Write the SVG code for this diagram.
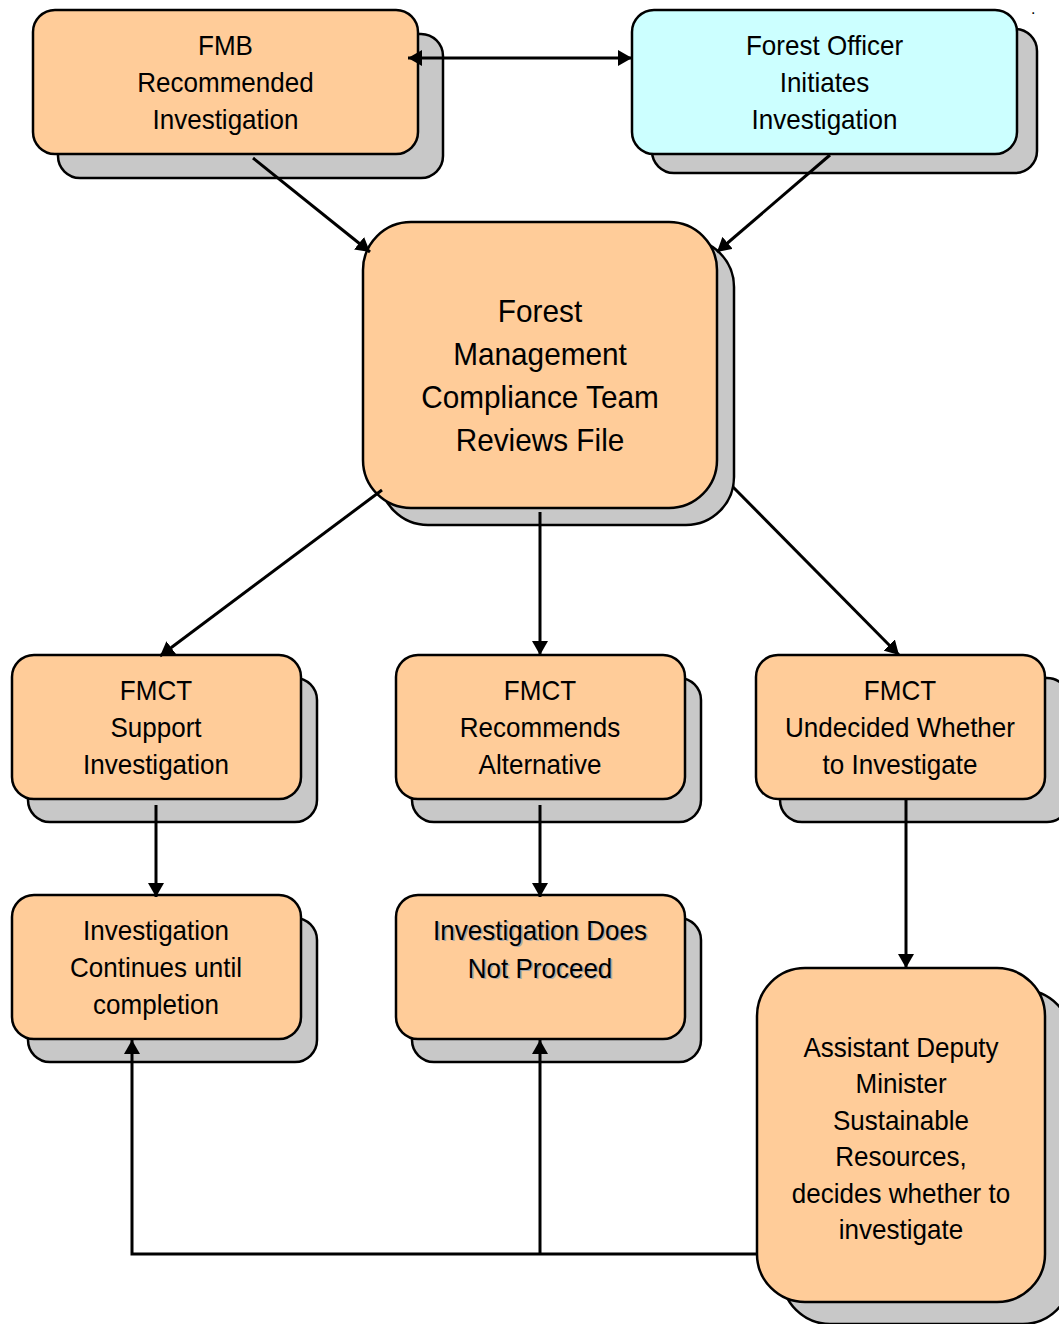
<svg xmlns="http://www.w3.org/2000/svg" width="1059" height="1324" viewBox="0 0 1059 1324">
<style>
.box{fill:#FFCC99;stroke:#000;stroke-width:2.5}
.cyan{fill:#CCFFFF;stroke:#000;stroke-width:2.5}
.sh{fill:#C8C8C8;stroke:#000;stroke-width:2.5}
.t{font-family:"Liberation Sans",Arial,sans-serif;font-size:28px;text-anchor:middle;fill:#000}
.tb{font-size:32px}
.ts{fill:#A8A8A8}
.c{fill:none;stroke:#000;stroke-width:3}
</style>
<defs>
<marker id="ah" viewBox="0 0 10 10" refX="10" refY="5" markerWidth="14" markerHeight="16" markerUnits="userSpaceOnUse" orient="auto-start-reverse" preserveAspectRatio="none">
<path d="M0,0 L10,5 L0,10 z" fill="#000"/>
</marker>
</defs>
<rect width="1059" height="1324" fill="#fff"/>

<g id="fmb">
<rect class="sh" x="58" y="34" width="385" height="144" rx="22"/>
<rect class="box" x="33" y="10" width="385" height="144" rx="22"/>
<g transform="translate(225.5 0) scale(0.93 1)"><text class="t" x="0" y="55">FMB</text><text class="t" x="0" y="92">Recommended</text><text class="t" x="0" y="129">Investigation</text></g>
</g>

<g id="forest-officer">
<rect class="sh" x="652" y="29" width="385" height="144" rx="22"/>
<rect class="cyan" x="632" y="10" width="385" height="144" rx="22"/>
<g transform="translate(824.5 0) scale(0.93 1)"><text class="t" x="0" y="55">Forest Officer</text><text class="t" x="0" y="92">Initiates</text><text class="t" x="0" y="129">Investigation</text></g>
</g>

<g id="fmct-review">
<rect class="sh" x="380" y="239" width="354" height="286" rx="48"/>
<rect class="box" x="363" y="222" width="354" height="286" rx="48"/>
<g transform="translate(540 0) scale(0.93 1)"><text class="t tb" x="0" y="322">Forest</text><text class="t tb" x="0" y="365">Management</text><text class="t tb" x="0" y="408">Compliance Team</text><text class="t tb" x="0" y="451">Reviews File</text></g>
</g>

<g id="fmct-support">
<rect class="sh" x="28" y="678" width="289" height="144" rx="22"/>
<rect class="box" x="12" y="655" width="289" height="144" rx="22"/>
<g transform="translate(156 0) scale(0.93 1)"><text class="t" x="0" y="700">FMCT</text><text class="t" x="0" y="737">Support</text><text class="t" x="0" y="774">Investigation</text></g>
</g>

<g id="fmct-alternative">
<rect class="sh" x="412" y="678" width="289" height="144" rx="22"/>
<rect class="box" x="396" y="655" width="289" height="144" rx="22"/>
<g transform="translate(540 0) scale(0.93 1)"><text class="t" x="0" y="700">FMCT</text><text class="t" x="0" y="737">Recommends</text><text class="t" x="0" y="774">Alternative</text></g>
</g>

<g id="fmct-undecided">
<rect class="sh" x="780" y="678" width="289" height="144" rx="22"/>
<rect class="box" x="756" y="655" width="289" height="144" rx="22"/>
<g transform="translate(900 0) scale(0.93 1)"><text class="t" x="0" y="700">FMCT</text><text class="t" x="0" y="737">Undecided Whether</text><text class="t" x="0" y="774">to Investigate</text></g>
</g>

<g id="investigation-continues">
<rect class="sh" x="28" y="918" width="289" height="144" rx="22"/>
<rect class="box" x="12" y="895" width="289" height="144" rx="22"/>
<g transform="translate(156 0) scale(0.93 1)"><text class="t" x="0" y="940">Investigation</text><text class="t" x="0" y="977">Continues until</text><text class="t" x="0" y="1014">completion</text></g>
</g>

<g id="investigation-not-proceed">
<rect class="sh" x="412" y="918" width="289" height="144" rx="22"/>
<rect class="box" x="396" y="895" width="289" height="144" rx="22"/>
<g transform="translate(541.5 1.5) scale(0.93 1)"><text class="t ts" x="0" y="940">Investigation Does</text><text class="t ts" x="0" y="978">Not Proceed</text></g>
<g transform="translate(540 0) scale(0.93 1)"><text class="t" x="0" y="940">Investigation Does</text><text class="t" x="0" y="978">Not Proceed</text></g>
</g>

<g id="adm">
<rect class="sh" x="782" y="990" width="289" height="334" rx="48"/>
<rect class="box" x="757" y="968" width="288" height="334" rx="48"/>
<g transform="translate(901 0) scale(0.93 1)"><text class="t" x="0" y="1057">Assistant Deputy</text><text class="t" x="0" y="1093.5">Minister</text><text class="t" x="0" y="1130">Sustainable</text><text class="t" x="0" y="1166.5">Resources,</text><text class="t" x="0" y="1203">decides whether to</text><text class="t" x="0" y="1239.5">investigate</text></g>
</g>

<g id="connectors">
<line class="c" x1="408" y1="58" x2="632" y2="58" marker-start="url(#ah)" marker-end="url(#ah)"/>
<line class="c" x1="253" y1="158" x2="370" y2="252" marker-end="url(#ah)"/>
<line class="c" x1="830" y1="155" x2="717" y2="252" marker-end="url(#ah)"/>
<line class="c" x1="382" y1="490" x2="160" y2="656" marker-end="url(#ah)"/>
<line class="c" x1="540" y1="512" x2="540" y2="655" marker-end="url(#ah)"/>
<line class="c" x1="733" y1="487" x2="899" y2="655" marker-end="url(#ah)"/>
<line class="c" x1="156" y1="805" x2="156" y2="897" marker-end="url(#ah)"/>
<line class="c" x1="540" y1="805" x2="540" y2="897" marker-end="url(#ah)"/>
<line class="c" x1="906" y1="800" x2="906" y2="968" marker-end="url(#ah)"/>
<polyline class="c" points="757,1254 132,1254 132,1040" marker-end="url(#ah)"/>
<line class="c" x1="540" y1="1254" x2="540" y2="1040" marker-end="url(#ah)"/>
</g>

<text x="1031" y="14" style="font-family:'Liberation Sans',Arial,sans-serif;font-size:16px;fill:#000">.</text>
</svg>
